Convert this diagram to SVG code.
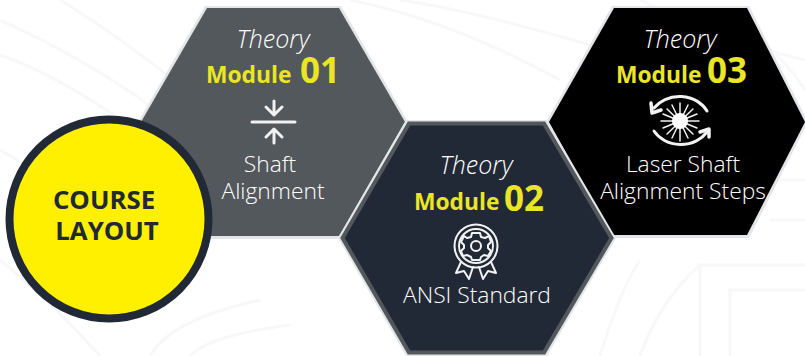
<svg xmlns="http://www.w3.org/2000/svg" width="805" height="356" viewBox="0 0 805 356">
<style>
text{font-family:"Open Sans","Noto Sans","DejaVu Sans",sans-serif;text-anchor:middle}
.t{font-size:25px;font-style:italic;font-weight:300;fill:#fff}
.m{font-size:22.800px;font-weight:700;fill:#ebe625;text-anchor:start}
.n{font-size:35px;font-weight:700;fill:#ebe625;text-anchor:start}
.l{font-size:22.800px;font-weight:300;fill:#fff}
.c{font-size:25.800px;font-weight:700;fill:#222936}
.bg{fill:none;stroke:#f8f8f9;stroke-width:3}
.i{fill:none;stroke:#f2f2f2;stroke-linecap:round;stroke-linejoin:round}
</style>
<rect width="805" height="356" fill="#fff"/>
<g id="background">
<path class="bg" d="M0 20Q90 60 170 120M0 55Q60 75 150 140M60 0Q110 30 180 85M0 150Q30 165 50 190"/>
<path class="bg" d="M350 0Q450 20 560 80M400 0Q470 10 590 45M640 0Q720 40 805 60M740 30Q780 50 805 90"/>
<path class="bg" d="M0 260Q50 300 100 356M150 356Q170 320 260 300M190 356Q210 335 290 325M600 356Q620 290 640 260M640 356Q660 300 700 265M700 356V265H805M730 356V290H805M770 180H805M770 220H805"/>
</g>
<g id="connectors"></g>
<g id="module-01">
<path d="M205 6H341L408 122L341 239H205L138 122Z" fill="#e3e5e8"/>
<path d="M207 8H339L405 122L339 236H207L141 122Z" fill="#53585c"/>
<text class="t" x="273" y="48">Theory</text>
<text class="m" x="206" y="83">Module</text>
<text class="n" x="300" y="83">01</text>
<g class="i">
<path d="M252 122H295" stroke-width="3"/>
<path d="M274 101V114M266 107L274 115L282 107M274 143V130M266 137L274 129L282 137" stroke-width="3"/>
</g>
<text class="l"><tspan x="270" y="172">Shaft</tspan><tspan x="273" y="199">Alignment</tspan></text>
</g>
<g id="module-03">
<path d="M612 6H749L808 122L749 238H612L546 122Z" fill="#e3e5e8"/>
<path d="M614 8H747L805 122L747 235H612L549 122Z" fill="#000"/>
<text class="t" x="680" y="48">Theory</text>
<text class="m" x="616" y="83">Module</text>
<text class="n" x="707" y="83">03</text>
<g class="i">
<path d="M654 108A31 27 0 0 1 707 111M707 132A31 27 0 0 1 654 131" stroke-width="3"/>
<path d="M651 103L652 113L661 110M709 137L709 129L700 132" stroke-width="3.500"/>
<path d="M680 103V141M661 121H699M667 109L693 134M693 109L667 134M672 105L688 138M688 105L672 138M663 114L697 128M697 114L663 128" stroke-width="1.500"/>
</g>
<circle cx="680" cy="121" r="8" fill="#fff"/>
<text class="l"><tspan x="683" y="172">Laser Shaft</tspan><tspan x="683" y="199">Alignment Steps</tspan></text>
</g>
<g id="module-02">
<path d="M406 120H547L616 238L547 356H406L338 238Z" fill="#e3e5e8"/>
<path d="M409 123.500H544L611.500 238L544 352.500H409L342.500 238Z" fill="#222936" stroke="#53585c" stroke-width="4"/>
<text class="t" x="476" y="174">Theory</text>
<text class="m" x="414" y="210">Module</text>
<text class="n" x="504" y="211">02</text>
<g class="i" stroke-width="2">
<circle cx="476" cy="246" r="21.500"/><circle cx="476" cy="246" r="17"/><circle cx="476" cy="246" r="5"/>
<path d="M472 233H480L481 237L485 238L489 236L491 242L488 245V248L491 251L488 256L484 255L481 257L480 260H472L471 257L467 255L463 256L461 251L464 248V245L461 242L464 236L467 238L471 237Z"/>
<path d="M461 262L456 273L464 271L469 279L473 267M491 262L496 273L488 271L483 279L479 267"/>
</g>
<text class="l" x="477" y="303">ANSI Standard</text>
</g>
<g id="course-layout">
<circle cx="109" cy="219" r="99.500" fill="#fff000" stroke="#222936" stroke-width="8"/>
<text class="c"><tspan x="104" y="209">COURSE</tspan><tspan x="107" y="240">LAYOUT</tspan></text>
</g>
</svg>
